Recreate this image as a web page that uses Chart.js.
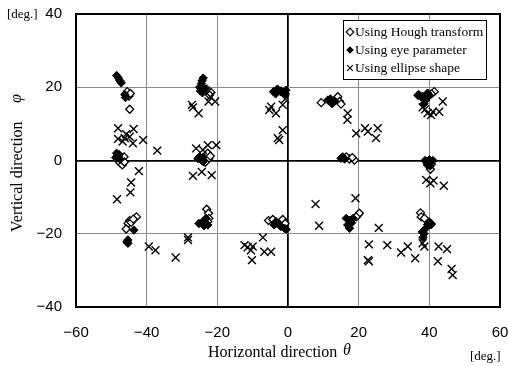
<!DOCTYPE html>
<html>
<head>
<meta charset="utf-8">
<title>Gaze direction estimation</title>
<script src="https://cdn.jsdelivr.net/npm/chart.js@4/dist/chart.umd.min.js"></script>
<style>
  html, body { margin: 0; padding: 0; background: #fff; }
  #wrap { width: 509px; height: 366px; }
</style>
</head>
<body>
<div id="wrap"><canvas id="chart" width="509" height="366"></canvas></div>
<script>
// tick labels
const xTicks = [-60, -40, -20, 0, 20, 40, 60];
const xTickLabels = ['\u221260', '\u221240', '\u221220', '0', '20', '40', '60'];
const yTicks = [-40, -20, 0, 20, 40];
const yTickLabels = ['\u221240', '\u221220', '0', '20', '40'];

const seriesNames = ['Using Hough transform', 'Using eye parameter', 'Using ellipse shape'];

// [theta, phi] in degrees
const houghPoints = [
  [-45.5, 18.8], [-45.0, 17.6], [-44.6, 18.3], [-44.8, 14.0],
  [-47.0, 0.2], [-46.4, 1.0], [-47.6, -0.6], [-46.9, -1.2], [-46.3, -0.4],
  [-42.9, -15.4], [-44.8, -16.4], [-45.3, -17.2], [-45.8, -18.7], [-44.4, -16.9], [-43.8, -16.0],
  [-21.8, 18.6], [-22.2, 17.9], [-23.0, 19.5],
  [-23.0, 1.5], [-22.4, 0.5], [-23.4, -0.5], [-22.7, 2.0], [-22.0, 1.2],
  [-23.0, -13.3], [-22.5, -14.4], [-22.4, -15.8], [-22.7, -16.7],
  [-0.8, 18.2], [-2.0, 18.8],
  [-5.5, -16.4], [-4.3, -16.1], [-1.5, -16.1], [-0.8, -17.2],
  [9.4, 15.8], [14.1, 17.4], [14.6, 16.1], [15.0, 15.4],
  [17.4, 0.4], [18.8, 0.1], [16.5, 1.0], [18.2, 0.8],
  [19.8, -14.9], [20.2, -14.4], [19.3, -15.4],
  [41.4, 18.8], [40.6, 18.2], [36.8, 17.8],
  [40.3, -2.4], [39.5, -1.2], [40.6, -1.0],
  [37.5, -14.3], [37.7, -15.4], [38.6, -15.8], [40.5, -17.3], [40.0, -17.0]
];

const eyePoints = [
  [-48.5, 23.2], [-48.0, 22.5], [-47.6, 21.8], [-47.2, 21.2], [-46.2, 18.0], [-46.0, 17.2],
  [-48.5, 2.0], [-48.0, 1.0], [-47.5, 0.3], [-48.8, 0.8], [-47.8, 1.6],
  [-43.6, -19.0], [-45.3, -21.7], [-45.3, -22.6], [-45.6, -22.2],
  [-24.0, 22.5], [-24.5, 21.0], [-25.0, 20.0], [-24.8, 19.0], [-24.2, 18.5], [-23.5, 19.5], [-24.3, 21.8],
  [-25.0, 1.0], [-24.5, 0.2], [-24.0, -0.3], [-25.5, 0.5], [-24.2, 0.8],
  [-25.2, -17.2], [-24.1, -16.7], [-23.2, -15.8], [-22.7, -17.6], [-23.8, -17.8],
  [-4.1, 18.8], [-3.0, 19.5], [-2.0, 19.0], [-1.0, 18.3], [-3.5, 18.2], [-0.6, 19.2],
  [-3.4, -16.7], [-2.5, -17.6], [-1.0, -18.5], [-3.9, -17.6], [-2.0, -18.0], [-0.5, -18.8],
  [11.3, 16.5], [12.5, 15.5], [13.2, 16.2], [12.0, 16.8],
  [15.0, 0.6], [16.0, 0.4], [15.5, 1.0],
  [16.9, -17.6], [17.4, -16.3], [16.5, -15.8], [18.4, -15.8], [17.4, -18.5], [18.0, -17.0],
  [37.0, 18.0], [38.0, 17.5], [39.0, 16.5], [38.5, 15.5], [40.0, 17.8], [39.5, 18.4], [38.3, 16.8],
  [38.8, 0.0], [40.0, 0.2], [41.0, 0.0], [39.5, -0.8], [40.2, -1.5],
  [38.0, -19.5], [39.0, -18.5], [39.5, -17.5], [40.0, -16.8], [38.5, -20.0], [40.5, -17.5], [38.2, -21.0]
];

const ellipsePoints = [
  [-48.1, 8.8], [-43.7, 8.6], [-48.1, 5.9], [-46.2, 6.1], [-44.8, 6.5], [-43.9, 4.7], [-41.0, 5.6], [-45.8, 7.2], [-37.0, 2.7], [-46.8, 5.2],
  [-42.2, -2.9], [-44.4, -6.0], [-44.6, -8.7], [-48.4, -10.6],
  [-39.4, -23.5], [-37.5, -24.5], [-31.8, -26.5], [-28.3, -21.0], [-28.3, -21.7],
  [-27.2, 15.2], [-25.3, 12.9], [-22.5, 16.1], [-20.6, 16.1], [-22.0, 17.4], [-26.9, 14.5],
  [-26.0, 3.3], [-22.7, 4.2], [-20.3, 4.2], [-24.1, 2.9],
  [-26.9, -4.2], [-24.4, -3.1], [-21.6, -4.0],
  [-5.3, 13.8], [-3.4, 12.9], [-4.8, 14.7], [-1.5, 15.2], [-0.8, 16.8],
  [-1.5, 8.3], [-2.5, 5.6], [-2.9, 6.1],
  [-7.1, -21.0], [-12.3, -23.1], [-10.0, -23.5], [-10.5, -24.5], [-10.2, -27.2], [-6.7, -24.9], [-4.8, -24.9], [-11.4, -23.7],
  [16.9, 12.9], [16.8, 11.1], [19.3, 7.4], [21.8, 8.8], [22.6, 7.9], [25.4, 8.8], [24.9, 6.1],
  [7.8, -11.9], [8.8, -17.8], [19.1, -10.3], [25.7, -18.4],
  [43.8, 16.1], [38.1, 14.5], [39.5, 12.9], [41.0, 13.3], [42.8, 13.3], [40.5, 12.4], [38.8, 14.0],
  [39.1, -5.3], [41.2, -5.5], [40.3, -6.2], [44.1, -6.9],
  [22.9, -22.9], [28.1, -23.1], [22.6, -27.2], [22.9, -27.5], [32.0, -25.1], [33.9, -23.5], [36.0, -26.7],
  [38.1, -22.6], [38.6, -23.5], [42.6, -23.5], [45.0, -24.2], [42.4, -27.5], [46.3, -29.6], [46.6, -31.3]
];

const toXY = (pts) => pts.map(([x, y]) => ({ x, y }));

const SERIF = '"Liberation Serif", "Times New Roman", serif';
const SANS = '"Liberation Sans", Arial, sans-serif';

// small marker helper for the legend box
function marker(ctx, style, x, y, r) {
  ctx.beginPath();
  if (style === 'cross') {
    ctx.moveTo(x - r, y - r); ctx.lineTo(x + r, y + r);
    ctx.moveTo(x + r, y - r); ctx.lineTo(x - r, y + r);
    ctx.stroke();
    return;
  }
  ctx.moveTo(x, y - r); ctx.lineTo(x + r, y); ctx.lineTo(x, y + r); ctx.lineTo(x - r, y);
  ctx.closePath();
  if (style === 'filled') { ctx.fill(); } else { ctx.fillStyle = '#fff'; ctx.fill(); ctx.stroke(); ctx.fillStyle = '#000'; }
}

const decorPlugin = {
  id: 'decor',
  afterDraw(chart) {
    const { ctx, chartArea: a } = chart;
    ctx.save();

    // plot frame
    ctx.strokeStyle = '#000';
    ctx.lineWidth = 2;
    ctx.strokeRect(a.left, a.top, a.right - a.left, a.bottom - a.top);

    // legend box
    const lx = 343, ly = 20, lw = 143, lh = 59;
    ctx.fillStyle = '#fff';
    ctx.fillRect(lx, ly, lw, lh);
    ctx.lineWidth = 1;
    ctx.strokeRect(lx + 0.5, ly + 0.5, lw, lh);
    const styles = ['hollow', 'filled', 'cross'];
    ctx.fillStyle = '#000';
    ctx.font = '13.5px ' + SERIF;
    ctx.textBaseline = 'middle';
    ctx.textAlign = 'left';
    seriesNames.forEach((name, i) => {
      const y = ly + 12 + i * 18;
      ctx.lineWidth = 1.2;
      marker(ctx, styles[i], lx + 7, y, styles[i] === 'cross' ? 2.8 : 3.8);
      ctx.fillText(name, lx + 12, y);
    });

    // unit labels
    ctx.font = '13px ' + SERIF;
    ctx.fillText('[deg.]', 7, 15);
    ctx.fillText('[deg.]', 470, 357);

    // x axis title
    ctx.font = '16px ' + SERIF;
    ctx.fillText('Horizontal direction', 208, 353);
    ctx.font = 'italic 16px ' + SERIF;
    ctx.fillText('\u03b8', 343, 351);

    // y axis title
    ctx.translate(18, 160);
    ctx.rotate(-Math.PI / 2);
    ctx.font = '16px ' + SERIF;
    ctx.textAlign = 'left';
    ctx.fillText('Vertical direction', -72, 0);
    ctx.font = 'italic 16px ' + SERIF;
    ctx.fillText('\u03c6', 57, -1);
    ctx.restore();
  }
};

const gridColor = (c) => (c.tick && c.tick.value === 0 ? '#000' : '#8a8a8a');
const gridWidth = (c) => (c.tick && c.tick.value === 0 ? 1.8 : 1);

// drop the label overhang padding so the plot area fills the frame
function noPad(scale) {
  scale.paddingLeft = 0;
  scale.paddingRight = 0;
  scale.paddingTop = 0;
  scale.paddingBottom = 0;
}

new Chart(document.getElementById('chart'), {
  type: 'scatter',
  data: {
    datasets: [
      {
        label: seriesNames[0],
        data: toXY(houghPoints),
        pointStyle: 'rectRot',
        pointRadius: 4,
        pointBorderWidth: 1.3,
        pointBorderColor: '#000',
        pointBackgroundColor: '#fff',
        order: 3
      },
      {
        label: seriesNames[1],
        data: toXY(eyePoints),
        pointStyle: 'rectRot',
        pointRadius: 4.2,
        pointBorderWidth: 1,
        pointBorderColor: '#000',
        pointBackgroundColor: '#000',
        order: 2
      },
      {
        label: seriesNames[2],
        data: toXY(ellipsePoints),
        pointStyle: 'crossRot',
        pointRadius: 5.6,
        pointBorderWidth: 1.4,
        pointBorderColor: '#000',
        order: 1
      }
    ]
  },
  options: {
    responsive: false,
    animation: false,
    layout: { padding: { left: 0, top: 14, right: 9, bottom: 0 } },
    plugins: {
      legend: { display: false },
      tooltip: { enabled: false }
    },
    scales: {
      x: {
        type: 'linear',
        min: -60,
        max: 60,
        afterFit(scale) { scale.height = 59; noPad(scale); },
        afterBuildTicks(scale) { scale.ticks = xTicks.map((v) => ({ value: v })); },
        ticks: {
          padding: 17,
          color: '#000',
          font: { family: SANS, size: 15 },
          maxRotation: 0,
          callback: (v) => xTickLabels[xTicks.indexOf(v)]
        },
        grid: { color: gridColor, lineWidth: gridWidth, drawTicks: false },
        border: { display: false }
      },
      y: {
        type: 'linear',
        min: -40,
        max: 40,
        afterFit(scale) { scale.width = 76; noPad(scale); },
        afterBuildTicks(scale) { scale.ticks = yTicks.map((v) => ({ value: v })); },
        ticks: {
          padding: 14,
          color: '#000',
          font: { family: SANS, size: 15 },
          callback: (v) => yTickLabels[yTicks.indexOf(v)]
        },
        grid: { color: gridColor, lineWidth: gridWidth, drawTicks: false },
        border: { display: false }
      }
    }
  },
  plugins: [decorPlugin]
});
</script>
</body>
</html>
